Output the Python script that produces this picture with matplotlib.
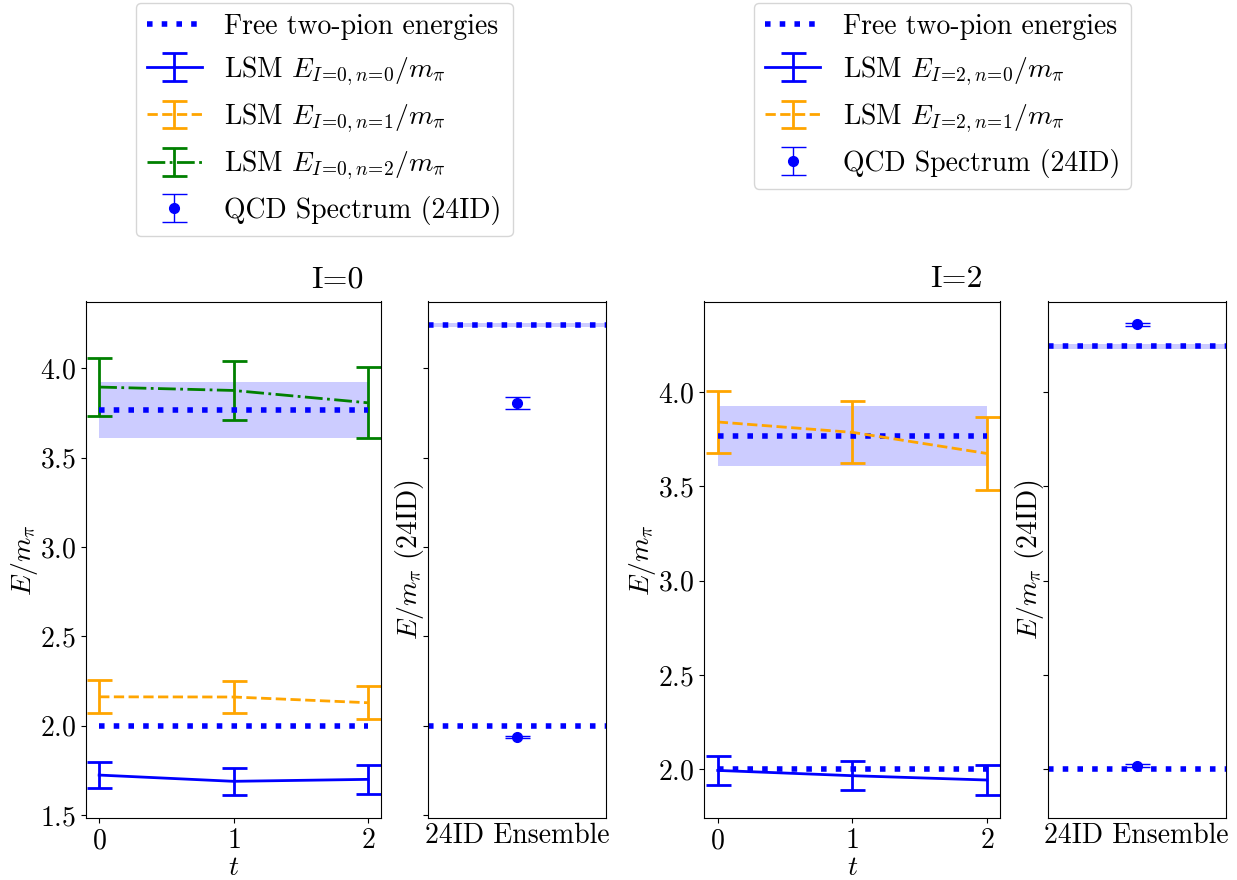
import numpy as np
import matplotlib
matplotlib.use("Agg")
import matplotlib.pyplot as plt
from matplotlib.lines import Line2D

plt.rcParams.update({
    "font.family": "serif",
    "font.serif": ["cmr10"],
    "mathtext.fontset": "cm",
    "axes.formatter.use_mathtext": True,
    "font.size": 20,
})

# ---------------- data ----------------
t = [0, 1, 2]

# I=0 LSM energies
i0_n0 = [1.724, 1.689, 1.700]
i0_n0_err = [0.074, 0.074, 0.081]
i0_n1 = [2.162, 2.161, 2.129]
i0_n1_err = [0.093, 0.092, 0.093]
i0_n2 = [3.896, 3.877, 3.808]
i0_n2_err = [0.163, 0.166, 0.199]

# I=2 LSM energies
i2_n0 = [1.994, 1.966, 1.943]
i2_n0_err = [0.077, 0.077, 0.081]
i2_n1 = [3.842, 3.787, 3.675]
i2_n1_err = [0.163, 0.164, 0.195]

# free two-pion energies
free_lsm = [2.0, 3.767]
free_lsm_err = [0.0, 0.158]
free_24id = [2.0, 4.243]
free_24id_err = [0.0, 0.012]

# QCD spectrum (24ID)
qcd_i0 = [1.939, 3.807]
qcd_i0_err = [0.006, 0.033]
qcd_i2 = [2.018, 4.360]
qcd_i2_err = [0.008, 0.008]

ensemble_label = ["24ID Ensemble"]

# ---------------- figure ----------------
W, H = 1237, 880
fig = plt.figure(figsize=(W / 100, H / 100), dpi=100)

def px_axes(x0, x1, y0, y1, **kw):
    return fig.add_axes([x0 / W, 1 - y1 / H, (x1 - x0) / W, (y1 - y0) / H], **kw)

styles = [
    dict(color="blue", ls="-"),
    dict(color="orange", ls="--"),
    dict(color="green", ls="-."),
]

FS = 20

def draw_pair(ax, axs, series, errs, iso, qcd, qcd_err, ylim):
    handles = []
    free_h = Line2D([], [], color="blue", ls=":", lw=4)
    handles.append((free_h, "Free two-pion energies"))
    for n, (vals, ev) in enumerate(zip(series, errs)):
        st = styles[n]
        c = ax.errorbar(t, vals, yerr=ev, color=st["color"], ls=st["ls"], lw=2,
                        elinewidth=2, capsize=9, capthick=2)
        handles.append((c, r"LSM $E_{I\!=\!%d,n\!=\!%d}/m_\pi$" % (iso, n)))
    for y, e in zip(free_lsm, free_lsm_err):
        if e > 0:
            ax.fill_between([t[0], t[-1]], [y - e] * 2, [y + e] * 2,
                            color="blue", alpha=0.2, lw=0)
        ax.plot([t[0], t[-1]], [y, y], color="blue", ls=":", lw=4)
    ax.set_xlim(-0.1, 2.1)
    ax.set_xticks(t)
    ax.set_yticks([1.5, 2.0, 2.5, 3.0, 3.5, 4.0])
    ax.set_ylim(*ylim)
    ax.set_xlabel(r"$t$", fontsize=FS, labelpad=0)
    ax.set_ylabel(r"$E/m_\pi$", fontsize=FS, labelpad=0)
    ax.tick_params(labelsize=FS)

    # side panel
    for y, e in zip(free_24id, free_24id_err):
        if e > 0:
            axs.axhspan(y - e, y + e, color="blue", alpha=0.2, lw=0)
        axs.axhline(y, color="blue", ls=":", lw=4)
    q = axs.errorbar([0] * len(qcd), qcd, yerr=qcd_err, fmt="o", color="blue",
                     ms=7, elinewidth=1, capsize=9, capthick=1)
    handles.append((q, "QCD Spectrum (24ID)"))
    axs.set_xlim(-1, 1)
    axs.set_xticks([0])
    axs.set_xticklabels(ensemble_label)
    axs.tick_params(axis="x", length=0, labelsize=FS)
    axs.set_yticks([1.5, 2.0, 2.5, 3.0, 3.5, 4.0])
    axs.set_ylim(*ylim)
    axs.tick_params(axis="y", labelleft=False)
    axs.set_ylabel(r"$E/m_\pi$ (24ID)", fontsize=FS, labelpad=-2)
    return handles

axL = px_axes(85.7, 381.3, 301.5, 818.3)
axLs = px_axes(428.3, 606.0, 301.5, 818.3)
axR = px_axes(704.3, 1000.3, 301.5, 818.3)
axRs = px_axes(1047.7, 1225.7, 301.5, 818.3)

hL = draw_pair(axL, axLs, [i0_n0, i0_n1, i0_n2], [i0_n0_err, i0_n1_err, i0_n2_err],
               0, qcd_i0, qcd_i0_err, (1.482, 4.375))
hR = draw_pair(axR, axRs, [i2_n0, i2_n1], [i2_n0_err, i2_n1_err],
               2, qcd_i2, qcd_i2_err, (1.740, 4.481))

fig.text(337.5 / W, 1 - 287 / H, "I=0", fontsize=23, ha="center", va="baseline")
fig.text(956 / W, 1 - 287 / H, "I=2", fontsize=23, ha="center", va="baseline")

fig.legend([h for h, _ in hL], [l for _, l in hL], loc="upper center",
           bbox_to_anchor=(324.2 / W, 1.0), fontsize=20, borderaxespad=0.1)
fig.legend([h for h, _ in hR], [l for _, l in hR], loc="upper center",
           bbox_to_anchor=(942.5 / W, 1.0), fontsize=20, borderaxespad=0.1)

fig.savefig("out.png", dpi=100)
